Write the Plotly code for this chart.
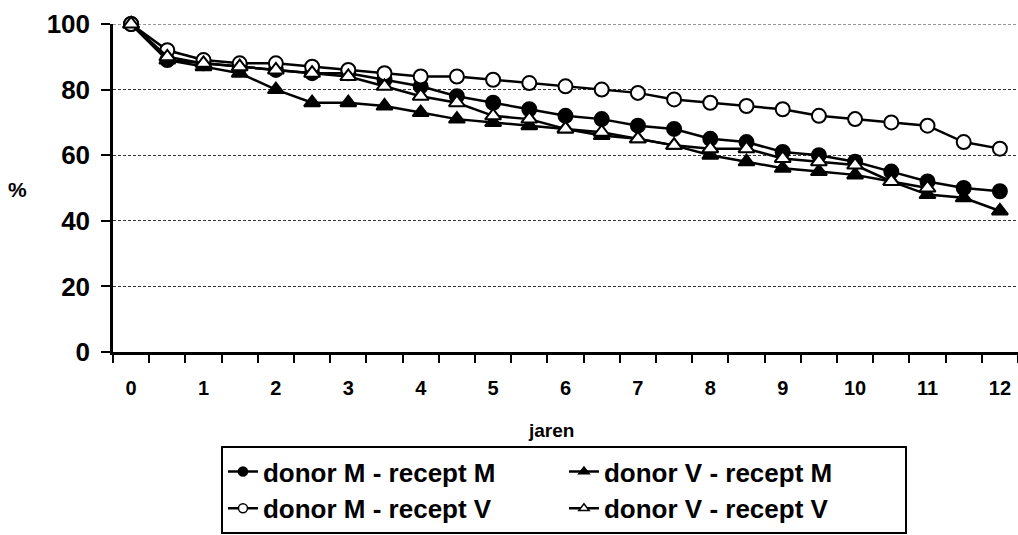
import plotly.graph_objects as go

years = [0, 0.5, 1, 1.5, 2, 2.5, 3, 3.5, 4, 4.5, 5, 5.5, 6, 6.5, 7, 7.5, 8, 8.5, 9, 9.5, 10, 10.5, 11, 11.5, 12]
tick_years = list(range(0, 13))
y_ticks = [0, 20, 40, 60, 80, 100]

dM_rM = [100, 89, 88, 87, 86, 85, 85, 83, 81, 78, 76, 74, 72, 71, 69, 68, 65, 64, 61, 60, 58, 55, 52, 50, 49]
dV_rM = [100, 89, 87, 85, 80, 76, 76, 75, 73, 71, 70, 69, 68, 66, 65, 63, 60, 58, 56, 55, 54, 52, 48, 47, 43]
dM_rV = [100, 92, 89, 88, 88, 87, 86, 85, 84, 84, 83, 82, 81, 80, 79, 77, 76, 75, 74, 72, 71, 70, 69, 64, 62]
dV_rV = [100, 90, 88, 87, 86, 85, 84, 81, 78, 76, 72, 71, 68, 67, 65, 63, 62, 62, 59, 58, 57, 52, 50, None, None]

names = ["donor M - recept M", "donor V - recept M", "donor M - recept V", "donor V - recept V"]
series = [dM_rM, dV_rM, dM_rV, dV_rV]
symbols = ["circle", "triangle-up", "circle", "triangle-up"]
fills = ["black", "black", "white", "white"]

FONT = "Liberation Sans, Arial, sans-serif"

fig = go.Figure()
for name, vals, sym, fc in zip(names, series, symbols, fills):
    fig.add_trace(go.Scatter(
        x=years, y=vals, mode="lines+markers", name=name, showlegend=False,
        line=dict(color="black", width=2.5),
        marker=dict(symbol=sym, size=14, color=fc, line=dict(color="black", width=2)),
        cliponaxis=False, connectgaps=False,
    ))
# legend entries
for name, sym, fc in zip(names, symbols, fills):
    fig.add_trace(go.Scatter(
        x=[None], y=[None], mode="lines+markers", name=name,
        line=dict(color="black", width=2.5),
        marker=dict(symbol=sym, size=9, color=fc, line=dict(color="black", width=1.5)),
    ))

fig.update_layout(
    width=1018, height=535,
    margin=dict(l=113, r=0, t=24, b=183),
    paper_bgcolor="white", plot_bgcolor="white",
    font=dict(family=FONT, color="black", weight="bold"),
    xaxis=dict(
        range=[-0.25, 12.25], tickmode="array", tickvals=tick_years,
        ticktext=[str(t) for t in tick_years], ticks="",
        tickfont=dict(size=20, family=FONT, weight="bold"),
        ticklabelstandoff=16,
        showline=True, linecolor="black", linewidth=2.5,
        showgrid=False, zeroline=False,
        minor=dict(tickmode="linear", tick0=0.25, dtick=0.5, ticks="outside",
                   ticklen=8, tickwidth=2, tickcolor="black", showgrid=False),
    ),
    yaxis=dict(
        range=[0, 100], tickmode="array", tickvals=y_ticks,
        ticks="outside", ticklen=9, tickwidth=2, tickcolor="black",
        tickfont=dict(size=26, family=FONT, weight="bold"),
        ticklabelstandoff=6,
        showline=True, linecolor="black", linewidth=2.5,
        showgrid=True, gridcolor="#333333", gridwidth=1, griddash="3px,2px",
        zeroline=False,
    ),
    shapes=[dict(type="line", xref="paper", yref="y", x0=0, x1=1,
                 y0=y_ticks[-1], y1=y_ticks[-1], layer="below",
                 line=dict(color="#333333", width=1, dash="3px,2px"))],
    legend=dict(
        orientation="h", x=0.1193, xanchor="left", y=-0.287, yanchor="top",
        entrywidth=296, entrywidthmode="pixels",
        bordercolor="black", borderwidth=2, bgcolor="white",
        font=dict(size=26, family=FONT, weight="bold"),
        itemsizing="trace", tracegroupgap=0,
    ),
    annotations=[
        dict(text="jaren", xref="paper", yref="paper", x=0.484, y=-0.24,
             xanchor="center", yanchor="middle", showarrow=False,
             font=dict(size=19, family=FONT, weight="bold")),
        dict(text="%", xref="paper", yref="paper", x=-0.106, y=0.494,
             xanchor="center", yanchor="middle", showarrow=False,
             font=dict(size=21, family=FONT, weight="bold")),
    ],
)

fig.write_html("out.html")
